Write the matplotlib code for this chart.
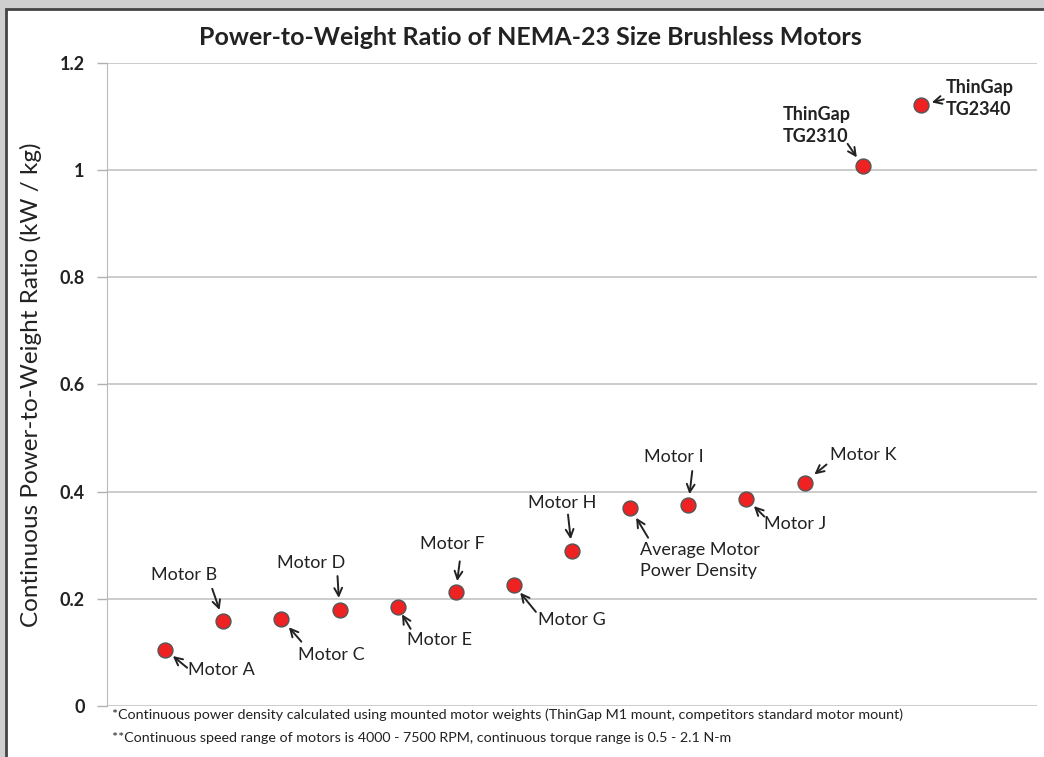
import matplotlib.pyplot as plt
from matplotlib.patches import Rectangle

# data
# *******************
motors = ['Motor A', 'Motor B', 'Motor C', 'Motor D', 'Motor E', 'Motor F', 'Motor G',
          'Motor H', 'Average Motor\nPower Density', 'Motor I', 'Motor J', 'Motor K',
          'ThinGap\nTG2310', 'ThinGap\nTG2340']
ratio = [0.105, 0.159, 0.163, 0.179, 0.185, 0.212, 0.226,
         0.290, 0.370, 0.375, 0.387, 0.417, 1.008, 1.121]
yticks = [0, 0.2, 0.4, 0.6, 0.8, 1.0, 1.2]
ytick_labels = ['0', '0.2', '0.4', '0.6', '0.8', '1', '1.2']

# label placement in pixels relative to the point: text (dx, dy, ha), arrow tail, arrow head
label_pos = [
    (23, -20, 'left'), (-39, 46, 'center'), (17, -36, 'left'), (-28, 47, 'center'),
    (9, -33, 'left'), (-3, 48, 'center'), (24, -35, 'left'), (-10, 48, 'center'),
    (10, -53, 'left'), (-14, 48, 'center'), (18, -25, 'left'), (25, 28, 'left'),
    (-80, 40, 'left'), (25, 7, 'left'),
]
arrow_pos = [
    ((22, -18), (8, -6)), ((-11, 32), (-3, 11)), ((20, -23), (7, -9)), ((-2, 34), (-2, 12)),
    ((13, -22), (5, -7)), ((4, 31), (3, 11)), ((22, -27), (6, -8)), ((-4, 36), (-3, 11)),
    ((18, -30), (6, -10)), ((4, 34), (0, 11)), ((18, -18), (7, -8)), ((22, 18), (8, 10)),
    ((-15, 22), (-5, 9)), ((23, 6), (11, 3)),
]

plt.rcParams['font.family'] = ['Lato', 'DejaVu Sans']

fig = plt.figure(figsize=(10.44, 7.57), dpi=100, facecolor='#cfcfcf')
# window frame
fig.patches.append(Rectangle((6 / 1044, -0.02), 1.05, 0.988 + 0.02, transform=fig.transFigure,
                             facecolor='white', edgecolor='#444444', lw=2, zorder=0))

ax = fig.add_axes([107 / 1044, 0.0674, 930 / 1044, 0.9168 - 0.0674])
ax.set_facecolor('none')
ax.set_zorder(2)

xs = list(range(1, len(ratio) + 1))
ax.scatter(xs, ratio, s=115, color='#ee2222', edgecolor='#555555', linewidth=1.0, zorder=3)

for i, (x, y) in enumerate(zip(xs, ratio)):
    dx, dy, ha = label_pos[i]
    bold = motors[i].startswith('ThinGap')
    ax.annotate(motors[i], xy=(x, y), xytext=(dx, dy), textcoords='offset pixels',
                ha=ha, va='center', fontsize=13, color='#222222',
                fontweight='bold' if bold else 'normal', linespacing=1.35)
    tail, head = arrow_pos[i]
    # shrinkB in points so the head stops near the marker edge
    ax.annotate('', xy=(x, y), xytext=tail, textcoords='offset pixels',
                arrowprops=dict(arrowstyle='->', color='#222222', lw=1.4,
                                shrinkA=0, shrinkB=(head[0] ** 2 + head[1] ** 2) ** 0.5 * 0.72,
                                mutation_scale=14))

ax.set_xlim(0, 16)
ax.set_ylim(0, 1.2)
ax.set_yticks(yticks)
ax.set_yticklabels(ytick_labels, fontsize=13, fontweight='bold', color='#222222')
ax.set_xticks([])
ax.grid(True, axis='y', color='#c8c8c8', lw=1.3)
ax.tick_params(axis='y', length=7, width=1, color='#b0b0b0', pad=9)
for s in ['top', 'right', 'bottom']:
    ax.spines[s].set_visible(False)
ax.spines['left'].set_color('#b8b8b8')
ax.set_axisbelow(True)

ax.set_ylabel('Continuous Power-to-Weight Ratio (kW / kg)', fontsize=17.5, color='#222222')
ax.yaxis.set_label_coords(-0.07, 0.5)

fig.text(0.508, 0.95, 'Power-to-Weight Ratio of NEMA-23 Size Brushless Motors',
         ha='center', va='center', fontsize=18, fontweight='bold', color='#222222')

fig.text(112 / 1044, 1 - 715 / 757, '*Continuous power density calculated using mounted motor weights '
         '(ThinGap M1 mount, competitors standard motor mount)',
         ha='left', va='center', fontsize=10.3, color='#222222')
fig.text(112 / 1044, 1 - 738 / 757, '**Continuous speed range of motors is 4000 - 7500 RPM, '
         'continuous torque range is 0.5 - 2.1 N-m',
         ha='left', va='center', fontsize=10.3, color='#222222')

fig.savefig('out.png', dpi=100, facecolor=fig.get_facecolor())
